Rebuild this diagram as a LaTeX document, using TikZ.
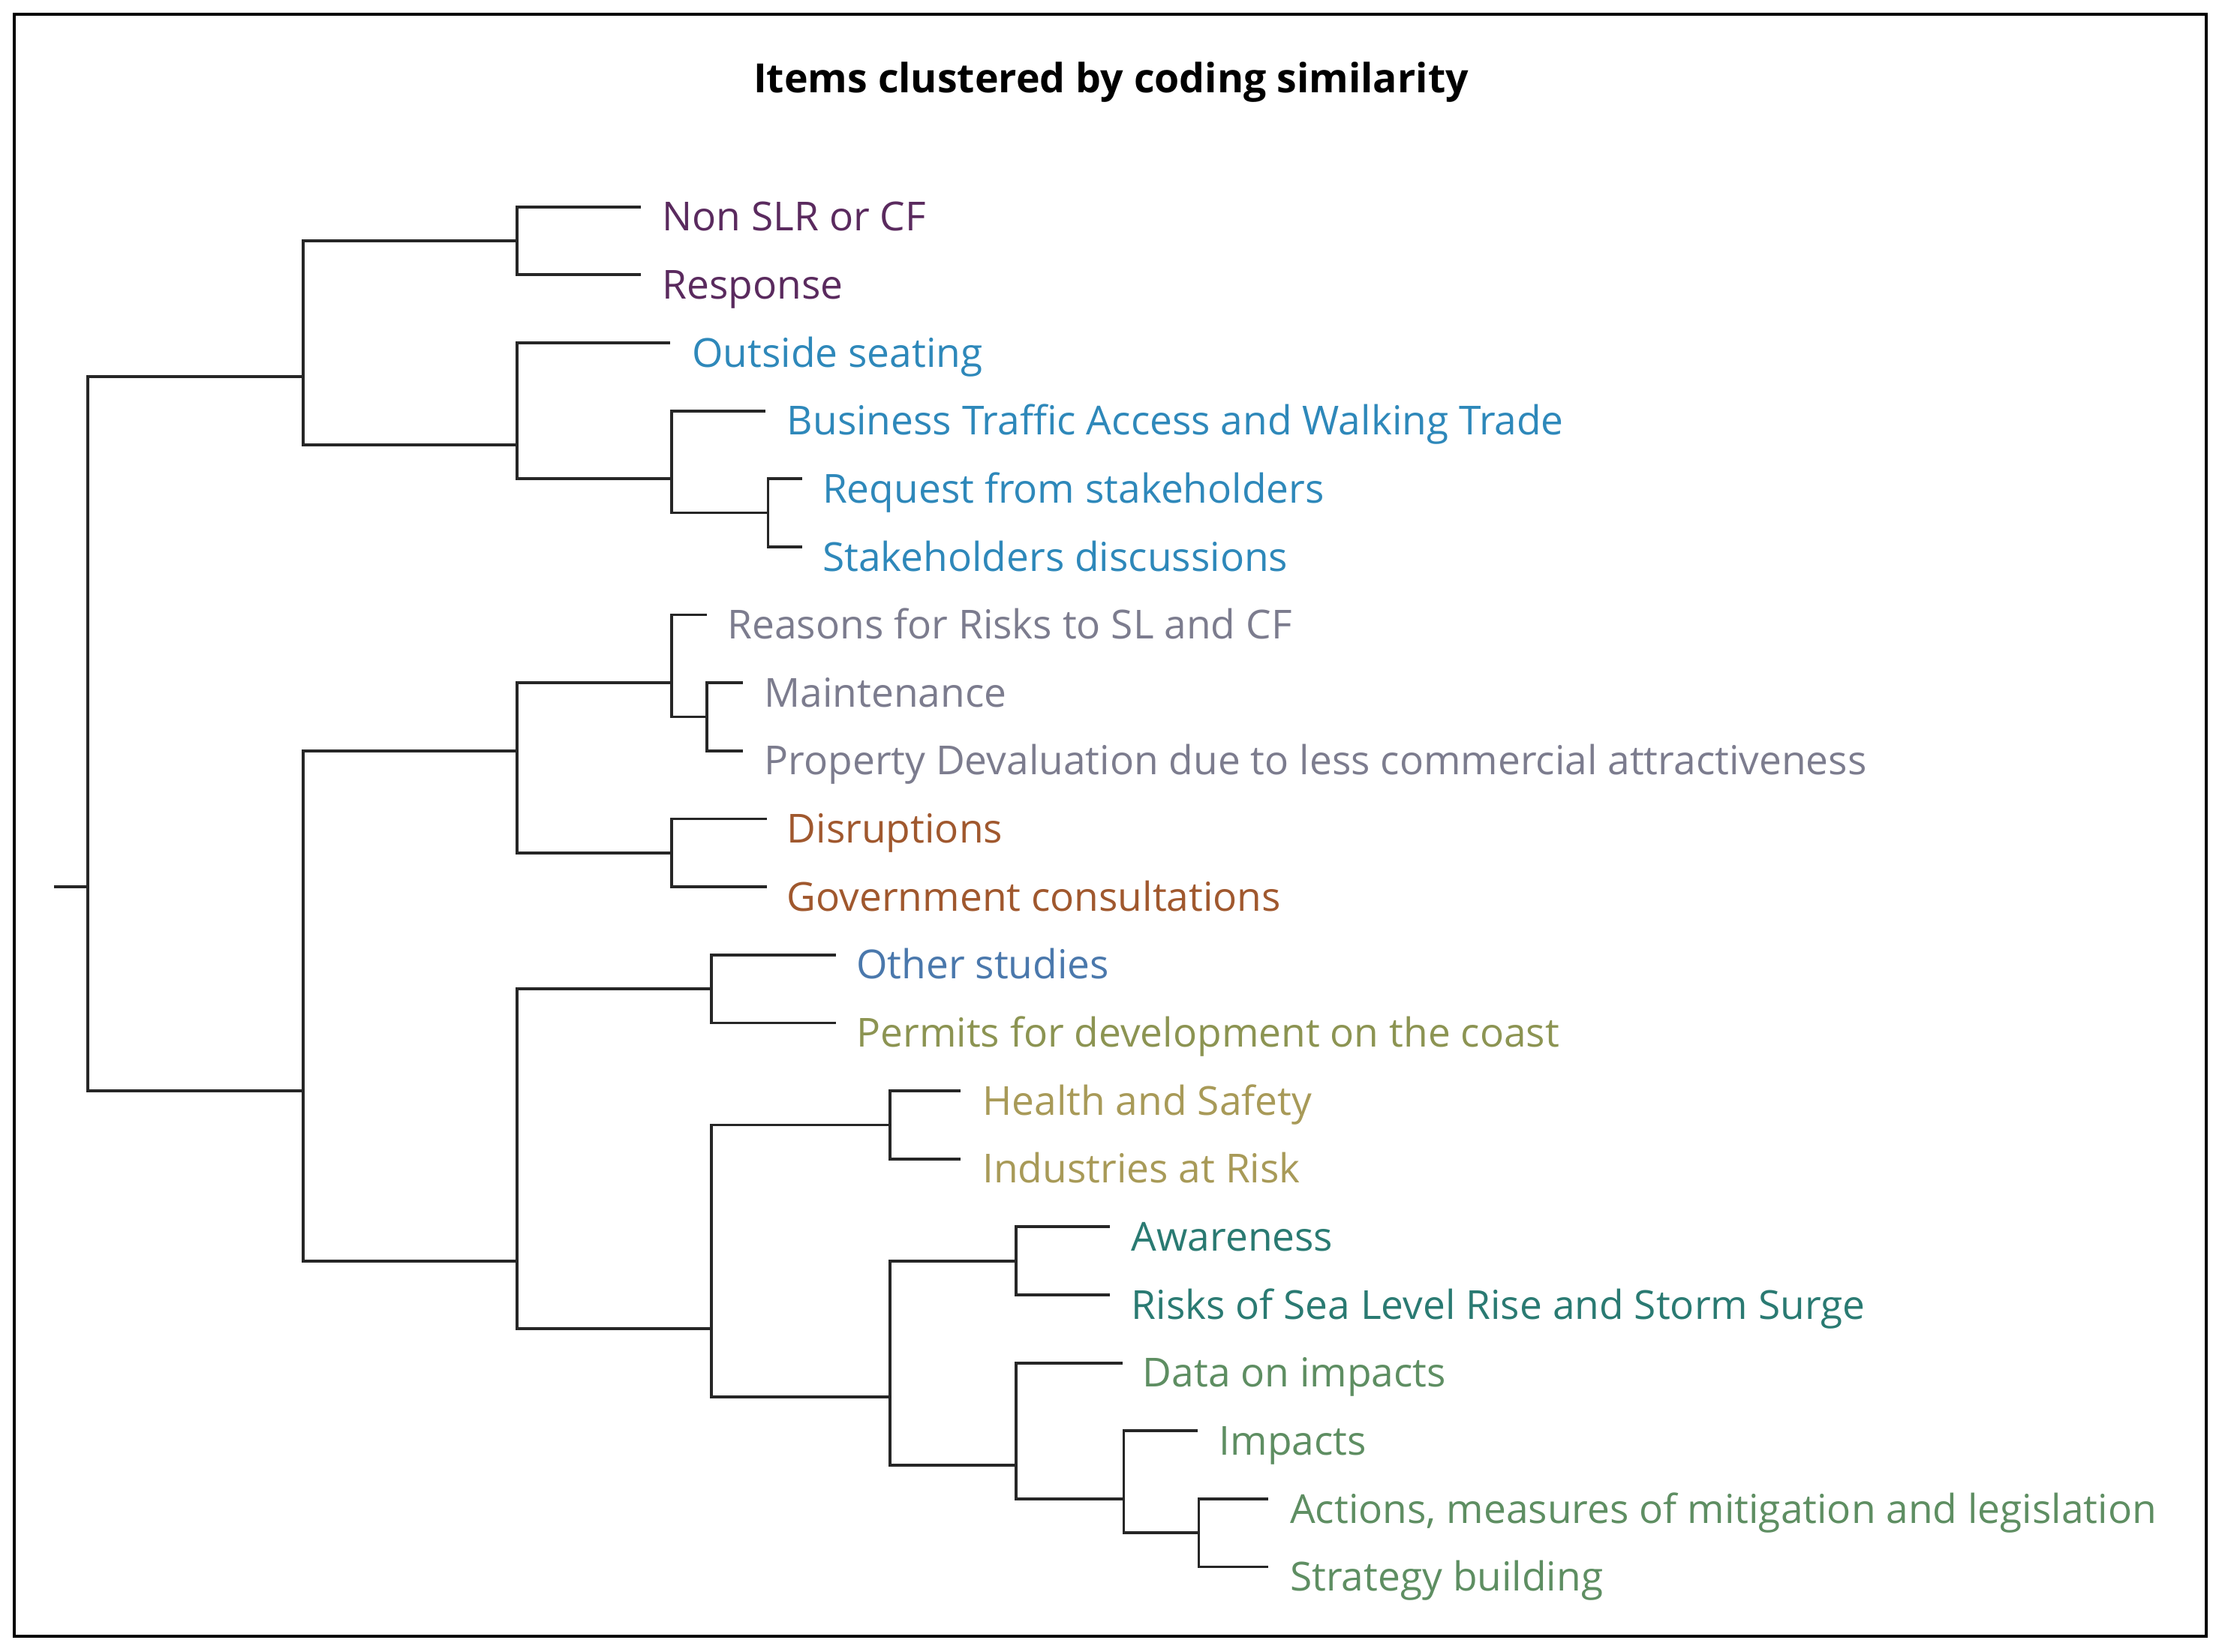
\documentclass[tikz,border=0pt]{standalone}
\usepackage{fontspec}
\setmainfont{Open Sans}
\begin{document}
\begin{tikzpicture}[x=0.5pt,y=-0.5pt,
  br/.style={line width=1pt,draw=black!85},
  lab/.style={anchor=base west,inner sep=0pt,font=\fontsize{14.1}{16}\selectfont,text=#1}]
\definecolor{cpur}{HTML}{5A2A5E}
\definecolor{cblu}{HTML}{2E88BA}
\definecolor{cgry}{HTML}{7C7C8E}
\definecolor{cbrn}{HTML}{A0582E}
\definecolor{coth}{HTML}{4A78AC}
\definecolor{coli}{HTML}{8C9452}
\definecolor{chea}{HTML}{A89A58}
\definecolor{ctea}{HTML}{2A7A72}
\definecolor{cgrn}{HTML}{5E8E62}
\useasboundingbox (0,0) rectangle (1568,1166);
\draw[line width=1pt] (10,10) rectangle (1557,1155);
\node[font=\bfseries\fontsize{14.2}{16}\selectfont] (title) at (784,58) {Items clustered by coding similarity};
% leaves: end coordinate and label
\foreach \i/\xe/\xt/\c/\t in {
 1/452/467/cpur/Non SLR or CF,
 2/452/467/cpur/Response,
 3/473/488/cblu/Outside seating,
 4/540/555/cblu/Business Traffic Access and Walking Trade,
 5/566/580/cblu/Request from stakeholders,
 6/566/580/cblu/Stakeholders discussions,
 7/499/513/cgry/Reasons for Risks to SL and CF,
 8/524/539/cgry/Maintenance,
 9/524/539/cgry/Property Devaluation due to less commercial attractiveness,
 10/541/555/cbrn/Disruptions,
 11/541/555/cbrn/Government consultations,
 12/590/604/coth/Other studies,
 13/590/604/coli/Permits for development on the coast,
 14/678/693/chea/Health and Safety,
 15/678/693/chea/Industries at Risk,
 16/783/798/ctea/Awareness,
 17/783/798/ctea/Risks of Sea Level Rise and Storm Surge,
 18/792/806/cgrn/Data on impacts,
 19/845/860/cgrn/Impacts,
 20/895/910/cgrn/{Actions, measures of mitigation and legislation},
 21/895/910/cgrn/Strategy building}{
  \coordinate (e\i) at (\xe,{98+48*\i});
  \node[lab=\c] (t\i) at (\xt,{115+48*\i}) {\t};
}
% internal joints
\coordinate (A) at (365,170);
\coordinate (B) at (542,362);
\coordinate (C) at (474,338);
\coordinate (D) at (365,314);
\coordinate (E) at (214,266);
\coordinate (F) at (499,506);
\coordinate (G) at (474,482);
\coordinate (H) at (474,602);
\coordinate (I) at (365,530);
\coordinate (K) at (502,698);
\coordinate (L) at (628,794);
\coordinate (M) at (717,890);
\coordinate (N) at (846,1082);
\coordinate (O) at (793,1058);
\coordinate (P) at (717,1034);
\coordinate (Q) at (628,986);
\coordinate (R) at (502,938);
\coordinate (S) at (365,890);
\coordinate (J) at (214,770);
\coordinate (root) at (62,626);
\coordinate (stub) at (38,626);
\draw[br] (A)|-(e1) (A)|-(e2);
\draw[br] (B)|-(e5) (B)|-(e6);
\draw[br] (C)|-(e4) (C)|-(B);
\draw[br] (D)|-(e3) (D)|-(C);
\draw[br] (E)|-(A) (E)|-(D);
\draw[br] (F)|-(e8) (F)|-(e9);
\draw[br] (G)|-(e7) (G)|-(F);
\draw[br] (H)|-(e10) (H)|-(e11);
\draw[br] (I)|-(G) (I)|-(H);
\draw[br] (K)|-(e12) (K)|-(e13);
\draw[br] (L)|-(e14) (L)|-(e15);
\draw[br] (M)|-(e16) (M)|-(e17);
\draw[br] (N)|-(e20) (N)|-(e21);
\draw[br] (O)|-(e19) (O)|-(N);
\draw[br] (P)|-(e18) (P)|-(O);
\draw[br] (Q)|-(M) (Q)|-(P);
\draw[br] (R)|-(L) (R)|-(Q);
\draw[br] (S)|-(K) (S)|-(R);
\draw[br] (J)|-(I) (J)|-(S);
\draw[br] (root)|-(E) (root)|-(J);
\draw[br] (stub)--(root);
\end{tikzpicture}
\end{document}
